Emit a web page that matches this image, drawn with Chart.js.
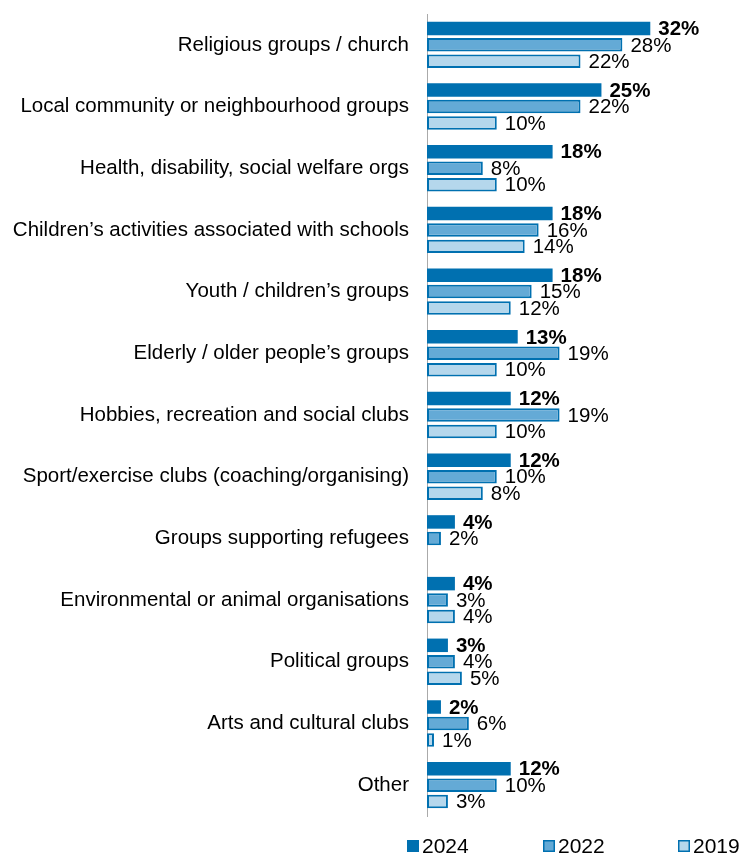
<!DOCTYPE html>
<html>
<head>
<meta charset="utf-8">
<script src="https://cdn.jsdelivr.net/npm/chart.js"></script>
<style>
  html, body { margin: 0; padding: 0; background: #fff; }
  #wrap { width: 741px; height: 855px; }
</style>
</head>
<body>
<div id="wrap"><canvas id="volChart"></canvas></div>
<script>
const categories = [
  'Religious groups / church',
  'Local community or neighbourhood groups',
  'Health, disability, social welfare orgs',
  'Children\u2019s activities associated with schools',
  'Youth / children\u2019s groups',
  'Elderly / older people\u2019s groups',
  'Hobbies, recreation and social clubs',
  'Sport/exercise clubs (coaching/organising)',
  'Groups supporting refugees',
  'Environmental or animal organisations',
  'Political groups',
  'Arts and cultural clubs',
  'Other'
];
const years = ['2024', '2022', '2019'];
const values2024 = [32, 25, 18, 18, 18, 13, 12, 12, 4, 4, 3, 2, 12];
const values2022 = [28, 22, 8, 16, 15, 19, 19, 10, 2, 3, 4, 6, 10];
const values2019 = [22, 10, 10, 14, 12, 10, 10, 8, null, 4, 5, 1, 3];

const dark = '#0070b0';
const fills = ['#0070b0', '#64aad6', '#b5d7ec'];
const font = 'Liberation Sans, Arial, sans-serif';

// value labels at the end of each bar
const valueLabels = {
  id: 'valueLabels',
  afterDatasetsDraw(chart) {
    const c = chart.ctx;
    c.save();
    c.textBaseline = 'middle';
    c.textAlign = 'left';
    c.fillStyle = '#000';
    chart.data.datasets.forEach((ds, i) => {
      c.font = (i === 0 ? 'bold ' : '') + '20.5px ' + font;
      chart.getDatasetMeta(i).data.forEach((bar, j) => {
        const v = ds.data[j];
        if (v == null) return;
        c.fillText(v + '%', bar.x + 8, bar.y + 1);
      });
    });
    c.restore();
  }
};

// legend drawn under the plot, items spread to the right
const bottomLegend = {
  id: 'bottomLegend',
  afterDraw(chart) {
    const c = chart.ctx;
    const xs = [407, 543, 678];
    const y = 846;
    c.save();
    c.font = '21px ' + font;
    c.textBaseline = 'middle';
    c.textAlign = 'left';
    chart.data.datasets.forEach((ds, i) => {
      c.fillStyle = ds.backgroundColor;
      c.fillRect(xs[i], y - 6, 12, 12);
      if (i > 0) {
        c.strokeStyle = dark;
        c.lineWidth = 1.5;
        c.strokeRect(xs[i] + 0.75, y - 5.25, 10.5, 10.5);
      }
      c.fillStyle = '#000';
      c.fillText(ds.label, xs[i] + 15, y + 1);
    });
    c.restore();
  }
};

const seriesValues = [values2024, values2022, values2019];
const datasets = years.map((year, i) => ({
  label: year,
  data: seriesValues[i],
  backgroundColor: fills[i],
  borderColor: dark,
  borderWidth: i === 0 ? 0 : 2,
  borderSkipped: false,
  barPercentage: 0.82,
  categoryPercentage: 0.8
}));

new Chart(document.getElementById('volChart'), {
  type: 'bar',
  data: { labels: categories, datasets },
  options: {
    indexAxis: 'y',
    responsive: true,
    maintainAspectRatio: false,
    animation: false,
    layout: { padding: { top: 14, bottom: 39, left: 0, right: 0 } },
    plugins: {
      legend: { display: false },
      tooltip: { enabled: false }
    },
    scales: {
      x: { display: false, min: 0, max: 45 },
      y: {
        afterFit: s => {
          s.width = 427;
          s.paddingTop = 0;
          s.paddingBottom = 0;
        },
        grid: { display: false, drawTicks: false },
        border: { display: true, color: '#aaaaaa', width: 1 },
        ticks: { color: '#000', padding: 18, font: { family: font, size: 20.5 } }
      }
    }
  },
  plugins: [valueLabels, bottomLegend]
});
</script>
</body>
</html>
